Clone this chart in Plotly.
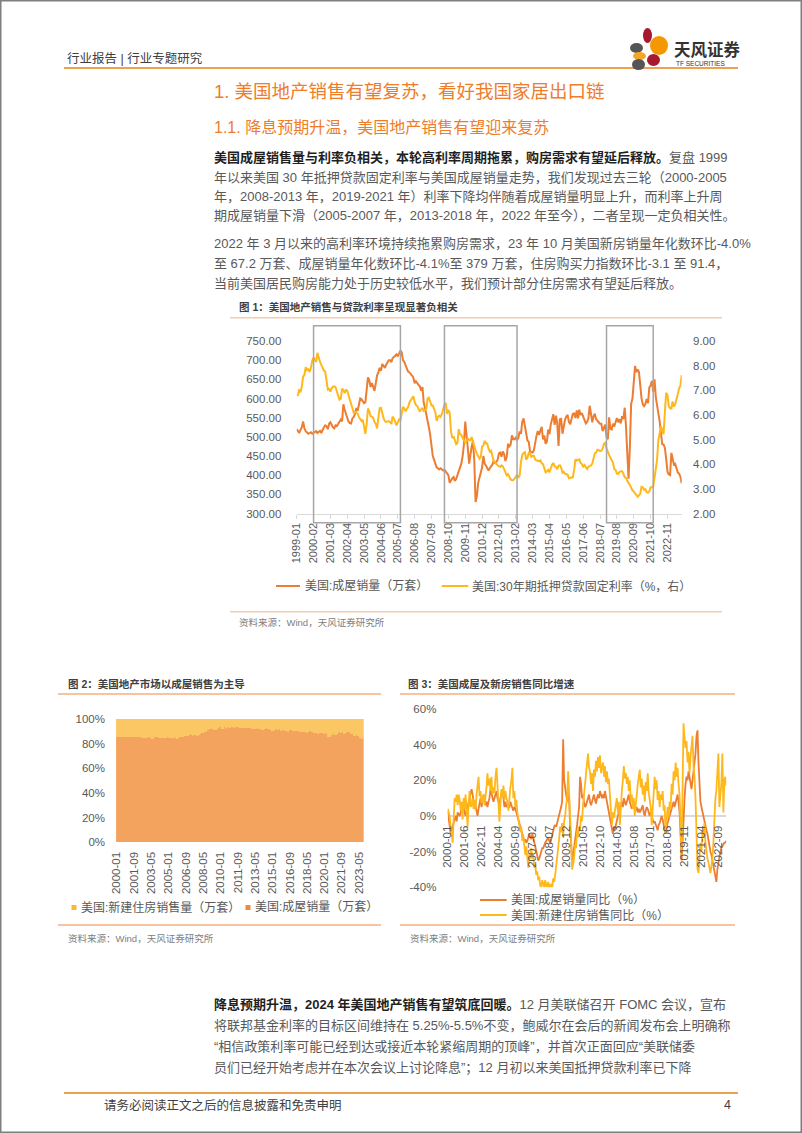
import plotly.graph_objects as go
import pandas as pd

# ---------------- data ----------------
# Chart 1: US existing home sales (10k units, SAAR), monthly 1999-01 .. 2023-10
sales = [
    520, 515, 510, 518, 525, 540, 522, 515, 512, 508, 510, 512,   # 1999
    508, 510, 512, 515, 510, 513, 516, 510, 520, 525, 530, 528,   # 2000
    520, 535, 538, 530, 525, 522, 530, 528, 535, 540, 545, 540,   # 2001
    585, 570, 560, 548, 540, 536, 535, 548, 552, 560, 575, 568,   # 2002
    590, 600, 598, 592, 588, 590, 620, 655, 648, 630, 640, 630,   # 2003
    620, 640, 660, 668, 680, 672, 690, 685, 680, 688, 695, 700,   # 2004
    700, 695, 705, 708, 712, 715, 710, 718, 725, 720, 700, 695,   # 2005
    685, 675, 670, 668, 665, 660, 655, 640, 645, 638, 635, 632,   # 2006
    620, 630, 590, 575, 560, 540, 525, 505, 480, 450, 440, 428,   # 2007
    420, 418, 415, 418, 415, 412, 414, 410, 405, 400, 380, 388,   # 2008
    392, 395, 385, 390, 400, 410, 420, 430, 450, 480, 540, 510,   # 2009
    470, 430, 455, 475, 490, 440, 330, 345, 380, 395, 410, 420,   # 2010
    450, 430, 425, 420, 412, 418, 422, 428, 438, 430, 435, 440,   # 2011
    457, 459, 448, 462, 455, 437, 447, 482, 475, 479, 504, 494,   # 2012
    494, 498, 492, 497, 514, 508, 539, 548, 529, 512, 490, 487,   # 2013
    462, 460, 459, 465, 489, 503, 515, 505, 517, 526, 493, 504,   # 2014
    482, 488, 519, 507, 532, 549, 559, 531, 555, 536, 476, 546,   # 2015
    547, 508, 533, 545, 553, 557, 539, 533, 547, 560, 561, 549,   # 2016
    569, 548, 571, 557, 562, 552, 544, 535, 539, 548, 581, 557,   # 2017
    538, 554, 560, 546, 543, 538, 534, 534, 515, 522, 532, 499,   # 2018
    494, 551, 521, 519, 534, 527, 542, 549, 538, 546, 535, 554,   # 2019
    546, 576, 530, 433, 391, 472, 586, 600, 654, 685, 669, 676,   # 2020
    669, 622, 601, 585, 580, 586, 599, 588, 629, 634, 646, 618,   # 2021
    650, 602, 577, 561, 541, 512, 481, 480, 471, 443, 409, 402,   # 2022
    400, 458, 444, 428, 430, 416, 407, 404, 396, 379,             # 2023
]
# 30-year fixed mortgage rate (%), monthly 1999-01 .. 2023-10
rate = [
    6.79, 6.81, 7.04, 6.92, 7.15, 7.55, 7.63, 7.94, 7.82, 7.85, 7.74, 7.91,
    8.21, 8.33, 8.24, 8.15, 8.52, 8.29, 8.15, 8.03, 7.91, 7.80, 7.75, 7.38,
    7.03, 7.05, 6.95, 7.08, 7.15, 7.16, 7.13, 6.95, 6.82, 6.62, 6.66, 7.07,
    7.00, 6.89, 7.01, 6.99, 6.81, 6.65, 6.49, 6.29, 6.09, 6.11, 6.07, 6.05,
    5.92, 5.84, 5.75, 5.81, 5.48, 5.23, 5.63, 6.26, 6.15, 5.95, 5.93, 5.88,
    5.71, 5.64, 5.45, 5.83, 6.27, 6.29, 6.06, 5.87, 5.75, 5.72, 5.73, 5.75,
    5.71, 5.63, 5.93, 5.86, 5.72, 5.58, 5.70, 5.82, 5.77, 6.07, 6.33, 6.27,
    6.15, 6.25, 6.32, 6.51, 6.60, 6.68, 6.76, 6.52, 6.40, 6.36, 6.24, 6.14,
    6.22, 6.29, 6.16, 6.18, 6.26, 6.66, 6.70, 6.57, 6.38, 6.38, 6.21, 6.10,
    5.76, 5.92, 5.97, 5.92, 6.04, 6.32, 6.43, 6.48, 6.04, 6.20, 6.09, 5.33,
    5.06, 5.13, 5.00, 4.81, 4.86, 5.42, 5.22, 5.19, 5.06, 4.95, 4.88, 4.93,
    5.03, 4.99, 4.97, 5.10, 4.89, 4.74, 4.56, 4.43, 4.35, 4.23, 4.30, 4.71,
    4.76, 4.95, 4.84, 4.84, 4.64, 4.51, 4.55, 4.27, 4.11, 4.07, 3.99, 3.96,
    3.92, 3.89, 3.95, 3.91, 3.80, 3.68, 3.55, 3.60, 3.50, 3.38, 3.35, 3.35,
    3.41, 3.53, 3.57, 3.45, 3.54, 4.07, 4.37, 4.46, 4.49, 4.19, 4.26, 4.46,
    4.43, 4.30, 4.34, 4.34, 4.19, 4.16, 4.13, 4.12, 4.16, 4.04, 4.00, 3.86,
    3.67, 3.71, 3.77, 3.67, 3.84, 3.98, 4.05, 3.91, 3.89, 3.80, 3.94, 3.96,
    3.87, 3.66, 3.69, 3.61, 3.60, 3.57, 3.44, 3.44, 3.46, 3.47, 3.77, 4.20,
    4.15, 4.17, 4.20, 4.05, 4.01, 3.90, 3.97, 3.88, 3.81, 3.90, 3.92, 3.95,
    4.03, 4.33, 4.44, 4.47, 4.59, 4.57, 4.53, 4.55, 4.63, 4.83, 4.87, 4.64,
    4.46, 4.37, 4.27, 4.14, 4.07, 3.80, 3.77, 3.62, 3.61, 3.69, 3.70, 3.72,
    3.62, 3.47, 3.45, 3.31, 3.23, 3.16, 3.02, 2.94, 2.89, 2.83, 2.77, 2.68,
    2.74, 2.81, 3.08, 3.06, 2.96, 2.98, 2.87, 2.84, 2.90, 3.07, 3.07, 3.10,
    3.45, 3.76, 4.17, 4.98, 5.23, 5.52, 5.41, 5.22, 6.11, 6.90, 6.81, 6.36,
    6.27, 6.26, 6.54, 6.34, 6.43, 6.71, 6.84, 7.07, 7.20, 7.62,
]
sales_name = "美国:成屋销量（万套）"
rate_name = "美国:30年期抵押贷款固定利率（%，右）"
# boxed periods in chart 1
periods = [("2000-02-01", "2005-09-01"), ("2008-07-01", "2013-03-01"), ("2018-12-01", "2021-12-01")]

# Chart 2: US new home sales (10k units, SAAR), monthly 2000-01 .. 2023-10
new_sales = [
    87, 86, 88, 86, 84, 85, 87, 90, 89, 92, 88, 90,
    91, 93, 92, 88, 89, 88, 89, 91, 88, 90, 93, 92,
    94, 95, 93, 90, 93, 95, 97, 99, 101, 96, 102, 104,
    100, 94, 104, 103, 106, 114, 118, 112, 112, 111, 108, 110,
    107, 113, 120, 123, 124, 120, 112, 125, 120, 128, 118, 123,
    117, 124, 124, 130, 131, 126, 137, 126, 126, 133, 137, 124,
    118, 112, 113, 117, 116, 110, 104, 105, 103, 99, 100, 103,
    90, 87, 84, 86, 90, 83, 79, 72, 70, 73, 67, 61,
    62, 60, 52, 54, 52, 50, 50, 43, 46, 40, 38, 34,
    34, 35, 35, 34, 37, 40, 41, 43, 40, 38, 36, 34,
    34, 31, 39, 42, 28, 30, 28, 27, 31, 28, 29, 33,
    30, 27, 29, 31, 31, 30, 29, 29, 30, 31, 31, 33,
    33, 35, 34, 33, 37, 34, 36, 37, 38, 37, 39, 38,
    45, 43, 42, 45, 43, 46, 38, 39, 40, 44, 44, 42,
    45, 43, 40, 40, 42, 41, 40, 43, 45, 44, 44, 48,
    52, 55, 48, 51, 50, 48, 51, 53, 46, 49, 52, 54,
    52, 50, 53, 57, 57, 56, 63, 56, 56, 56, 57, 55,
    60, 61, 62, 60, 60, 61, 56, 56, 66, 63, 69, 62,
    64, 67, 67, 66, 67, 63, 61, 60, 58, 58, 60, 60,
    65, 64, 67, 67, 61, 72, 65, 70, 71, 72, 70, 73,
    77, 74, 62, 58, 68, 79, 100, 103, 97, 100, 84, 86,
    99, 78, 87, 79, 73, 70, 71, 70, 80, 66, 74, 84,
    79, 76, 71, 62, 66, 58, 53, 68, 59, 62, 64, 64,
    65, 62, 68, 68, 71, 69, 74, 68, 76, 67,
]
existing_sales_2000 = sales[12:]
new_name = "美国:新建住房销售量（万套）"

# Chart 3: year-on-year growth (%), monthly categories from 2000-01
exist_yoy = [
    3, -2, -6, -10, -8, -5, -4, -2, 0, -3, 2, 1,
    0, 2, 4, 3, 5, 2, 0, 3, 5, 8, 10, 13,
    15, 12, 8, 5, 6, 2, 0, 4, 8, 10, 5, 8,
    12, 10, 6, 8, 5, 8, 10, 15, 12, 10, 8, 10,
    12, 14, 10, 8, 6, 10, 12, 15, 10, 5, 8, 5,
    6, 5, 5, 8, 6, 4, 3, 5, 4, 2, 0, -2,
    -3, -5, -8, -10, -12, -14, -13, -15, -14, -12, -10, -12,
    -13, -10, -12, -15, -18, -20, -22, -25, -24, -22, -20, -18,
    -18, -16, -15, -14, -13, -12, -14, -15, -13, -10, -8, -6,
    -5, -6, -4, -2, 0, 3, 5, 8, 43, 20, 15, 10,
    8, 15, 10, -5, -20, -25, -22, -18, -15, -10, -5, 0,
    5, 22, 18, 10, 12, 8, 5, 6, 8, 10, 12, 8,
    6, 8, 10, 12, 9, 7, 10, 12, 10, 14, 12, 10,
    12, 10, 14, 11, 9, 6, 2, -2, -5, -8, -10, -6,
    -8, -5, -2, 0, 2, 4, 6, 8, 5, 10, 8, 6,
    8, 10, 12, 8, 6, 4, 5, 8, 6, 3, 5, 2,
    4, 2, 3, 5, 6, 2, 0, 3, 5, 4, 2, 0,
    2, 0, -2, -4, -3, -5, -6, -8, -5, -4, -2, 0,
    -2, -6, -8, -10, -6, -4, -2, 0, 2, 4, 6, 8,
    5, 8, 10, 12, 8, 2, -10, -25, -15, 0, 10, 18,
    22, 20, 25, 22, 18, 15, 20, 25, 30, 35, 45, 48,
    30, 15, 8, 5, 2, 0, -3, -5, -8, -10, -14, -17,
    -20, -22, -25, -28, -30, -33, -37, -30, -26, -23, -20, -18,
    -17, -16, -15, -15, -14,
]
new_yoy = [
    4, 2, 0, -6, -12, -15, -2, 10, 8, 12, 6, 12,
    9, 3, 8, -2, 10, 4, 12, -1, -6, 6, 14, 5,
    6, 10, 4, 9, 3, 12, 16, 22, 11, 14, 7, 10,
    12, 6, 10, 16, 24, 17, 21, 14, 22, 12, 16, 13,
    22, 27, 18, 10, -3, 6, 15, 11, 17, 9, 14, 10,
    8, 3, 12, 16, 20, 27, 10, 14, 5, 9, 2, -2,
    -5, -9, -6, -14, -11, -18, -22, -17, -26, -29, -21, -24,
    -18, -24, -22, -29, -27, -33, -31, -36, -34, -39, -40, -36,
    -38, -40, -36, -39, -41, -37, -40, -41, -38, -40, -35, -37,
    -33, -28, -26, -18, -13, -6, -9, -4, -12, -3, 0, 6,
    10, 25, 14, 8, -12, -30, -26, -24, -16, -18, -8, -12,
    -6, -8, 0, -3, 6, 12, 20, 26, 32, 35, 27, 25,
    18, 24, 14, 26, 22, 31, 25, 33, 27, 34, 24, 28,
    30, 22, 28, 19, 25, 18, 21, 12, 4, -5, 2, -1,
    3, 6, 10, 2, 8, -5, 6, 14, 20, 28, 21, 24,
    18, 22, 14, 20, 8, 12, 4, 10, 0, 7, 14, 18,
    22, 26, 16, 21, 12, 17, 8, 19, 14, 24, 13, 8,
    5, -5, 4, 12, 22, 15, 20, 9, 14, 5, 12, 9,
    14, 3, 6, -10, -3, 5, -1, 8, 4, 18, 12, 25,
    20, 30, 22, 27, 18, 12, -5, -22, 15, 52, 44, 38,
    42, 30, 36, 24, 33, 40, 45, 28, 22, 10, -5, -30,
    -32, -24, -15, -20, -8, -12, -4, -15, -20, -24, -26, -30,
    -32, -28, -24, -15, 0, 10, 14, 22, 35, 5, 12, 18,
    35, 2, 20, 22, 17,
]
exist_yoy_name = "美国:成屋销量同比（%）"
new_yoy_name = "美国:新建住房销售同比（%）"

# ---------------- helpers ----------------
W, H = 802, 1133
FONT = "Liberation Sans, Noto Sans CJK SC, sans-serif"
ORANGE = "#ED7D31"
YELLOW = "#FFB81C"
GRAY_TXT = "#595959"


def X(px):
    return px / W


def Y(py):
    return 1 - py / H


d1 = pd.date_range("1999-01-01", periods=len(sales), freq="MS")
d2 = d1[12:]
d3 = pd.date_range("2000-01-01", periods=len(new_yoy), freq="MS")

fig = go.Figure()

# chart 1
fig.add_trace(go.Scatter(x=d1, y=sales, name=sales_name, mode="lines",
                         line=dict(color=ORANGE, width=2), xaxis="x", yaxis="y", showlegend=False))
fig.add_trace(go.Scatter(x=d1, y=rate, name=rate_name, mode="lines",
                         line=dict(color=YELLOW, width=2), xaxis="x", yaxis="y2", showlegend=False))
# chart 2
fig.add_trace(go.Bar(x=d2, y=existing_sales_2000, name=sales_name, marker=dict(color="#F4A35E", line=dict(width=0)),
                     xaxis="x2", yaxis="y3", showlegend=False))
fig.add_trace(go.Bar(x=d2, y=new_sales, name=new_name, marker=dict(color="#FAC764", line=dict(width=0)),
                     xaxis="x2", yaxis="y3", showlegend=False))
# chart 3
fig.add_trace(go.Scatter(x=d3, y=exist_yoy, name=exist_yoy_name, mode="lines",
                         line=dict(color=ORANGE, width=1.8), xaxis="x3", yaxis="y4", showlegend=False))
fig.add_trace(go.Scatter(x=d3, y=new_yoy, name=new_yoy_name, mode="lines",
                         line=dict(color=YELLOW, width=1.8), xaxis="x3", yaxis="y4", showlegend=False))

tickfont = dict(family=FONT, size=11.5, color=GRAY_TXT)
hide = "rgba(0,0,0,0)"

fig.update_layout(
    width=W, height=H, autosize=False, template="none",
    margin=dict(l=0, r=0, t=0, b=0, pad=0),
    paper_bgcolor="white", plot_bgcolor="rgba(0,0,0,0)",
    font=dict(family=FONT, color=GRAY_TXT),
    barmode="stack", barnorm="percent", bargap=0,
    xaxis=dict(domain=[X(296.7), X(681.7)], anchor="y", type="date",
               range=["1999-01-01", "2023-10-01"], tick0="1999-01-01", dtick="M13",
               tickformat="%Y-%m", tickangle=-90, ticks="outside", ticklen=4, tickcolor="#D9D9D9",
               showline=True, linecolor="#D9D9D9", linewidth=1, showgrid=False, zeroline=False,
               tickfont=dict(family=FONT, size=11, color=GRAY_TXT), automargin=False),
    yaxis=dict(domain=[Y(513.5), Y(341)], anchor="x", range=[300, 750], dtick=50, tickformat=".2f",
               ticks="outside", ticklen=12, tickcolor=hide, showgrid=False, zeroline=False,
               showline=False, tickfont=tickfont, automargin=False),
    yaxis2=dict(domain=[Y(513.5), Y(341)], anchor="x", overlaying="y", side="right",
                range=[2, 9], dtick=1, tickformat=".2f", ticks="outside", ticklen=8, tickcolor=hide,
                showgrid=False, zeroline=False, showline=False, tickfont=tickfont, automargin=False),
    xaxis2=dict(domain=[X(116.3), X(363.7)], anchor="y3", type="date",
                range=["1999-12-16", "2023-10-16"], tick0="2000-01-01", dtick="M20",
                tickformat="%Y-%m", tickangle=-90, ticks="outside", ticklen=4, tickcolor=hide,
                showline=False, showgrid=False, zeroline=False,
                tickfont=dict(family=FONT, size=11.5, color=GRAY_TXT), automargin=False),
    yaxis3=dict(domain=[Y(842.3), Y(719)], anchor="x2", range=[0, 100], dtick=20, ticksuffix="%",
                ticks="outside", ticklen=8, tickcolor=hide, showgrid=False, zeroline=False,
                showline=False, tickfont=tickfont, automargin=False),
    xaxis3=dict(domain=[X(447.7), X(726.3)], anchor="free", position=Y(816), type="date",
                range=["2000-01-01", "2023-05-01"], tick0="2000-01-01", dtick="M17",
                tickformat="%Y-%m", tickangle=-90, ticks="outside", ticklen=4, tickcolor=hide,
                showline=False, showgrid=False, zeroline=False,
                tickfont=dict(family=FONT, size=11.5, color=GRAY_TXT), automargin=False),
    yaxis4=dict(domain=[Y(887.3), Y(709)], anchor="x3", range=[-40, 60],
                tickvals=[-40, -20, 0, 20, 40, 60], ticktext=["-40%", "-20%", "0%", "20%", "40%", "60%"],
                ticks="outside", ticklen=8, tickcolor=hide, showgrid=False,
                zeroline=True, zerolinecolor="#D9D9D9", zerolinewidth=1.5,
                showline=False, tickfont=tickfont, automargin=False),
)

shapes = []
annos = []


def hline(x0, x1, y, color, width):
    shapes.append(dict(type="line", xref="paper", yref="paper", x0=X(x0), x1=X(x1), y0=Y(y), y1=Y(y),
                       line=dict(color=color, width=width)))


def text(x, y, s, size, color="#595959", anchor="left", bold=False):
    if bold:
        s = "<b>" + s + "</b>"
    annos.append(dict(xref="paper", yref="paper", x=X(x), y=Y(y), text=s, showarrow=False,
                      xanchor=anchor, yanchor="middle", font=dict(family=FONT, size=size, color=color)))


# page border
shapes.append(dict(type="rect", xref="paper", yref="paper", x0=0, x1=1, y0=0, y1=1,
                   line=dict(color="#7F7F7F", width=3)))

# header
text(65, 58, "行业报告 | 行业专题研究", 12.5, "#404040")
hline(64, 738, 68, "#EDA24F", 2)
for (a, b, c, d, col) in [(643, 28, 652, 43, "#A6192E"), (650, 36, 668, 55, "#F39800"),
                          (630, 43, 643, 53, "#555555"), (633, 52, 646, 60, "#F5A623"),
                          (647, 54, 660, 66, "#A6192E"), (632, 59, 645, 70, "#555555")]:
    shapes.append(dict(type="circle", xref="paper", yref="paper", x0=X(a), x1=X(c), y0=Y(d), y1=Y(b),
                       fillcolor=col, line=dict(width=0)))
text(672, 49, "天风证券", 16.5, "#333333", bold=True)
text(674, 64, "TF SECURITIES", 6.5, "#333333")

# titles
text(212, 91, "1. 美国地产销售有望复苏，看好我国家居出口链", 18.5, "#EE7D2B")
text(212, 127, "1.1. 降息预期升温，美国地产销售有望迎来复苏", 16, "#EE7D2B")

body = [
    (157, "<b><span style='color:#1F1F1F'>美国成屋销售量与利率负相关，本轮高利率周期拖累，购房需求有望延后释放。</span></b>复盘 1999"),
    (177, "年以来美国 30 年抵押贷款固定利率与美国成屋销量走势，我们发现过去三轮（2000-2005"),
    (196.5, "年，2008-2013 年，2019-2021 年）利率下降均伴随着成屋销量明显上升，而利率上升周"),
    (216, "期成屋销量下滑（2005-2007 年，2013-2018 年，2022 年至今），二者呈现一定负相关性。"),
    (243.5, "2022 年 3 月以来的高利率环境持续拖累购房需求，23 年 10 月美国新房销量年化数环比-4.0%"),
    (263.5, "至 67.2 万套、成屋销量年化数环比-4.1%至 379 万套，住房购买力指数环比-3.1 至 91.4，"),
    (283, "当前美国居民购房能力处于历史较低水平，我们预计部分住房需求有望延后释放。"),
    (1004, "<b><span style='color:#1F1F1F'>降息预期升温，2024 年美国地产销售有望筑底回暖。</span></b>12 月美联储召开 FOMC 会议，宣布"),
    (1025, "将联邦基金利率的目标区间维持在 5.25%-5.5%不变，鲍威尔在会后的新闻发布会上明确称"),
    (1046, "“相信政策利率可能已经到达或接近本轮紧缩周期的顶峰”，并首次正面回应“美联储委"),
    (1068, "员们已经开始考虑并在本次会议上讨论降息”；12 月初以来美国抵押贷款利率已下降"),
]
for yy, s in body:
    text(212, yy, s, 13, "#595959")

# chart 1 frame
text(237, 307.5, "图 1：美国地产销售与贷款利率呈现显著负相关", 10.5, "#404040", bold=True)
hline(230, 722, 317.7, "#F8CBAD", 1.5)
hline(230, 722, 611.7, "#F8CBAD", 1.5)
text(237, 622.7, "资料来源：Wind，天风证券研究所", 9.5, "#808080")
for (p0, p1) in periods:
    shapes.append(dict(type="rect", xref="x", yref="paper", x0=p0, x1=p1, y0=Y(522.7), y1=Y(325.7),
                       line=dict(color="#A6A6A6", width=1.5), fillcolor="rgba(0,0,0,0)", layer="above"))
hline(276, 300, 586, ORANGE, 2)
text(303, 586, sales_name, 12, GRAY_TXT)
hline(441.7, 468.3, 586, YELLOW, 2)
text(470, 586, rate_name, 12, GRAY_TXT)

# chart 2 frame
text(66, 683.5, "图 2：美国地产市场以成屋销售为主导", 10.5, "#404040", bold=True)
hline(58, 381, 694, "#F4B183", 1.5)
hline(58, 381, 925, "#F4B183", 1.5)
text(66, 938, "资料来源：Wind，天风证券研究所", 9.5, "#808080")
shapes.append(dict(type="rect", xref="paper", yref="paper", x0=X(71.5), x1=X(76.5), y0=Y(910), y1=Y(905),
                   fillcolor="#F9B934", line=dict(width=0)))
text(79, 907.3, new_name, 12, GRAY_TXT)
shapes.append(dict(type="rect", xref="paper", yref="paper", x0=X(245.5), x1=X(250.5), y0=Y(910), y1=Y(905),
                   fillcolor="#EE8A3C", line=dict(width=0)))
text(253, 907.3, sales_name, 12, GRAY_TXT)

# chart 3 frame
text(406, 684, "图 3：美国成屋及新房销售同比增速", 10.5, "#404040", bold=True)
hline(400, 735, 694, "#F4B183", 1.5)
hline(400, 735, 925, "#F4B183", 1.5)
text(408, 938, "资料来源：Wind，天风证券研究所", 9.5, "#808080")
hline(480, 506.7, 900, ORANGE, 2)
text(509, 900, exist_yoy_name, 12, GRAY_TXT)
hline(480, 506.7, 915, YELLOW, 2)
text(509, 915, new_yoy_name, 12, GRAY_TXT)

# footer
hline(64, 738, 1093, "#EDA24F", 2)
text(102, 1105, "请务必阅读正文之后的信息披露和免责申明", 12.5, "#404040")
text(733, 1105, "4", 12.5, "#404040", anchor="right")

fig.update_layout(shapes=shapes, annotations=annos)

fig.write_html("out.html", include_plotlyjs=True, config={"displayModeBar": False})
